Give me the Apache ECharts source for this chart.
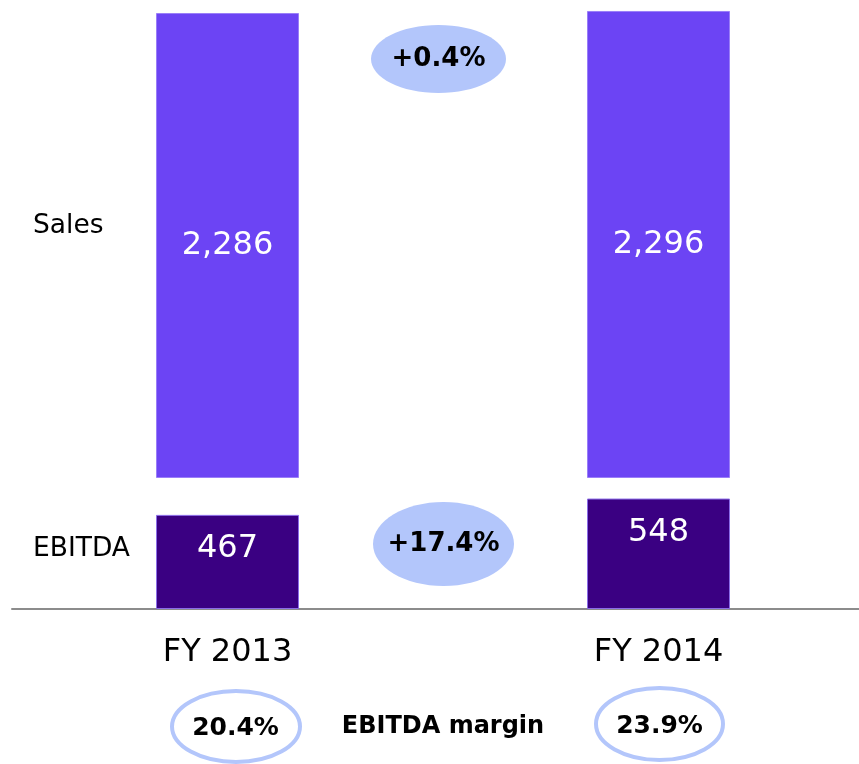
<!DOCTYPE html>
<html>
<head>
<meta charset="utf-8">
<script src="https://cdn.jsdelivr.net/npm/echarts@6/dist/echarts.min.js"></script>
<style>
html,body{margin:0;padding:0;background:#fff;}
#c{width:859px;height:764px;}
</style>
</head>
<body>
<div id="c"></div>
<script>
const categories = ['FY 2013', 'FY 2014'];
const sales = [2286, 2296];
const ebitda = [467, 548];
const growthLabels = ['+0.4%', '+17.4%'];
const marginLabels = ['20.4%', '23.9%'];
const rowLabels = ['Sales', 'EBITDA'];
const marginTitle = 'EBITDA margin';

const FONT = '"DejaVu Sans", Verdana, sans-serif';
const chart = echarts.init(document.getElementById('c'), null, {renderer: 'canvas'});

const fmt = v => v.toLocaleString('en-US');

const option = {
  animation: false,
  backgroundColor: '#ffffff',
  grid: [
    {left: 12, width: 862, top: 0, height: 478, outerBoundsMode: 'none', containLabel: false},
    {left: 12, width: 862, top: 478, height: 131, outerBoundsMode: 'none', containLabel: false}
  ],
  xAxis: [
    {gridIndex: 0, type: 'category', data: categories, show: false},
    {gridIndex: 1, type: 'category', data: categories,
      axisLine: {show: true, lineStyle: {color: '#8c8c8c', width: 2}},
      axisTick: {show: false},
      axisLabel: {color: '#000', fontSize: 32, fontFamily: FONT, margin: 28}
    }
  ],
  yAxis: [
    {gridIndex: 0, type: 'value', min: 0, max: 2350, show: false},
    {gridIndex: 1, type: 'value', min: 0, max: 650, show: false}
  ],
  series: [
    {
      name: 'Sales', type: 'bar', xAxisIndex: 0, yAxisIndex: 0,
      data: sales, barWidth: 143,
      itemStyle: {color: '#6c44f4', borderColor: '#9a7ef8', borderWidth: 1},
      label: {show: true, position: 'inside', color: '#fff', fontSize: 32, fontFamily: FONT, formatter: p => fmt(p.value)}
    },
    {
      name: 'EBITDA', type: 'bar', xAxisIndex: 1, yAxisIndex: 1,
      data: ebitda, barWidth: 143,
      itemStyle: {color: '#3a0082', borderColor: '#8a6ce8', borderWidth: 1},
      label: {show: true, position: 'insideTop', distance: 18, color: '#fff', fontSize: 32, fontFamily: FONT, formatter: p => fmt(p.value)}
    }
  ]
};
chart.setOption(option);

// annotations positioned from the library's scales
const x0 = chart.convertToPixel({xAxisIndex: 1}, categories[0]);
const x1 = chart.convertToPixel({xAxisIndex: 1}, categories[1]);
const midX = (x0 + x1) / 2;

const fill = '#b3c6fb';
const boldText = (txt, x, y, size) => ({
  type: 'text', x: x, y: y, z: 10,
  style: {text: txt, fill: '#000', font: 'bold ' + size + 'px ' + FONT, textAlign: 'center', textVerticalAlign: 'middle'}
});
const graphic = [
  {type: 'ellipse', shape: {cx: midX - 4.5, cy: 59, rx: 67.5, ry: 34}, style: {fill: fill}},
  boldText(growthLabels[0], midX - 4.5, 59, 26),
  {type: 'ellipse', shape: {cx: midX + 0.5, cy: 544, rx: 70.5, ry: 42}, style: {fill: fill}},
  boldText(growthLabels[1], midX + 0.5, 544, 26),
  {type: 'ellipse', shape: {cx: x0 + 8.5, cy: 726.5, rx: 64, ry: 35.5}, style: {fill: 'none', stroke: fill, lineWidth: 4}},
  boldText(marginLabels[0], x0 + 8, 728, 25),
  {type: 'ellipse', shape: {cx: x1 + 1, cy: 724, rx: 63.5, ry: 36}, style: {fill: 'none', stroke: fill, lineWidth: 4}},
  boldText(marginLabels[1], x1 + 1, 726, 25),
  boldText(marginTitle, midX, 727, 24),
  {type: 'text', x: 33, y: 226, style: {text: rowLabels[0], fill: '#000', font: '26.5px ' + FONT, textVerticalAlign: 'middle'}},
  {type: 'text', x: 33, y: 549, style: {text: rowLabels[1], fill: '#000', font: '26.5px ' + FONT, textVerticalAlign: 'middle'}}
];
chart.setOption({graphic: graphic});
</script>
</body>
</html>
